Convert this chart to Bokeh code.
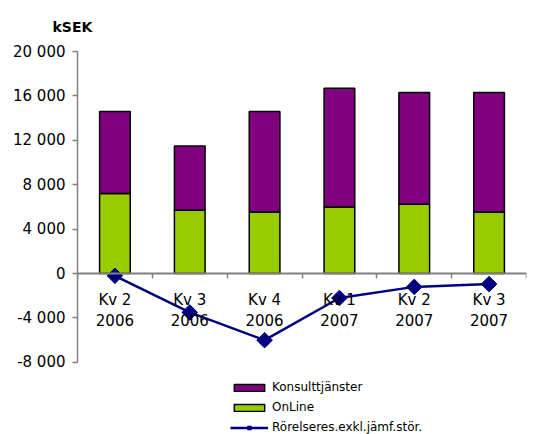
import math
from bokeh.plotting import figure
from bokeh.models import (ColumnDataSource, LinearAxis, FixedTicker, Range1d, Title,
                          Legend, LegendItem)
from bokeh.embed import file_html
from bokeh.resources import INLINE

categories = ["Kv 2\n2006", "Kv 3\n2006", "Kv 4\n2006", "Kv 1\n2007", "Kv 2\n2007", "Kv 3\n2007"]
online = [7200, 5700, 5550, 6000, 6250, 5550]
konsult = [7400, 5800, 9050, 10700, 10050, 10750]
rorelse = [-200, -3500, -6000, -2200, -1200, -950]
y_ticks = [-8000, -4000, 0, 4000, 8000, 12000, 16000, 20000]
y_tick_labels = ["-8 000", "-4 000", "0", "4 000", "8 000", "12 000", "16 000", "20 000"]

n = len(categories)
xc = [i + 0.5 for i in range(n)]
total = [a + b for a, b in zip(online, konsult)]
src = ColumnDataSource(dict(x=xc, online=online, total=total, zero=[0] * n, ror=rorelse))

FONT = "DejaVu Sans"

p = figure(width=536, height=434, output_backend="svg", toolbar_location=None,
           x_axis_type=None, y_axis_type=None,
           x_range=Range1d(0, n), y_range=Range1d(-14495, 20000),
           min_border_left=77, min_border_right=10, min_border_top=50, min_border_bottom=0)
p.outline_line_color = None
p.xgrid.visible = False
p.ygrid.visible = False

t = Title(text="kSEK", align="left", offset=-25, standoff=33,
          text_font=FONT, text_font_size="14px", text_font_style="bold", text_color="black")
p.add_layout(t, "above")

yaxis = LinearAxis(ticker=FixedTicker(ticks=y_ticks),
                   major_label_overrides={float(v): s for v, s in zip(y_ticks, y_tick_labels)},
                   bounds=(y_ticks[0], y_ticks[-1]))
yaxis.axis_line_color = "#808080"
yaxis.axis_line_width = 1.5
yaxis.major_tick_line_color = "#808080"
yaxis.major_tick_line_width = 1.5
yaxis.major_tick_out = 5
yaxis.major_tick_in = 0
yaxis.minor_tick_out = 0
yaxis.minor_tick_in = 0
yaxis.major_label_standoff = 7
yaxis.major_label_text_font = FONT
yaxis.major_label_text_font_size = "15px"
yaxis.major_label_text_color = "black"
p.add_layout(yaxis, "left")

# bars
r_on = p.vbar(x="x", bottom="zero", top="online", width=0.41, source=src,
              fill_color="#99CC00", line_color="black", line_width=1.5)
r_ko = p.vbar(x="x", bottom="online", top="total", width=0.41, source=src,
              fill_color="#800080", line_color="black", line_width=1.5)

# x axis at zero: labels at category centres, minor ticks at category boundaries
xaxis = LinearAxis(ticker=FixedTicker(ticks=xc, minor_ticks=list(range(n + 1))),
                   fixed_location=0,
                   major_label_overrides={float(x): c for x, c in zip(xc, categories)})
xaxis.axis_line_color = "#808080"
xaxis.axis_line_width = 2
xaxis.major_tick_line_color = None
xaxis.major_tick_out = 0
xaxis.major_tick_in = 0
xaxis.minor_tick_line_color = "#808080"
xaxis.minor_tick_line_width = 1.5
xaxis.minor_tick_out = 5
xaxis.minor_tick_in = 0
xaxis.major_label_standoff = 12
xaxis.major_label_text_font = FONT
xaxis.major_label_text_font_size = "15px"
xaxis.major_label_text_color = "black"
p.add_layout(xaxis, "below")

# line
r_line = p.line(x="x", y="ror", source=src, line_color="#000080", line_width=2.5)
r_pts = p.scatter(x="x", y="ror", source=src, marker="square", angle=math.pi / 4, size=11,
                  fill_color="#000080", line_color="#000080")

legend = Legend(items=[
    LegendItem(label="Konsulttjänster", renderers=[r_ko]),
    LegendItem(label="OnLine", renderers=[r_on]),
    LegendItem(label="Rörelseres.exkl.jämf.stör.", renderers=[r_line, r_pts]),
], location=(153, 0))
legend.background_fill_alpha = 0
legend.border_line_color = None
legend.padding = 0
legend.margin = 0
legend.spacing = 6
legend.glyph_width = 38
legend.glyph_height = 9
legend.label_height = 14
legend.label_standoff = 4
legend.label_text_font = FONT
legend.label_text_font_size = "12px"
legend.label_text_color = "black"
legend.label_text_baseline = "middle"
p.add_layout(legend, "center")

open("out.html", "w").write(file_html(p, INLINE))
